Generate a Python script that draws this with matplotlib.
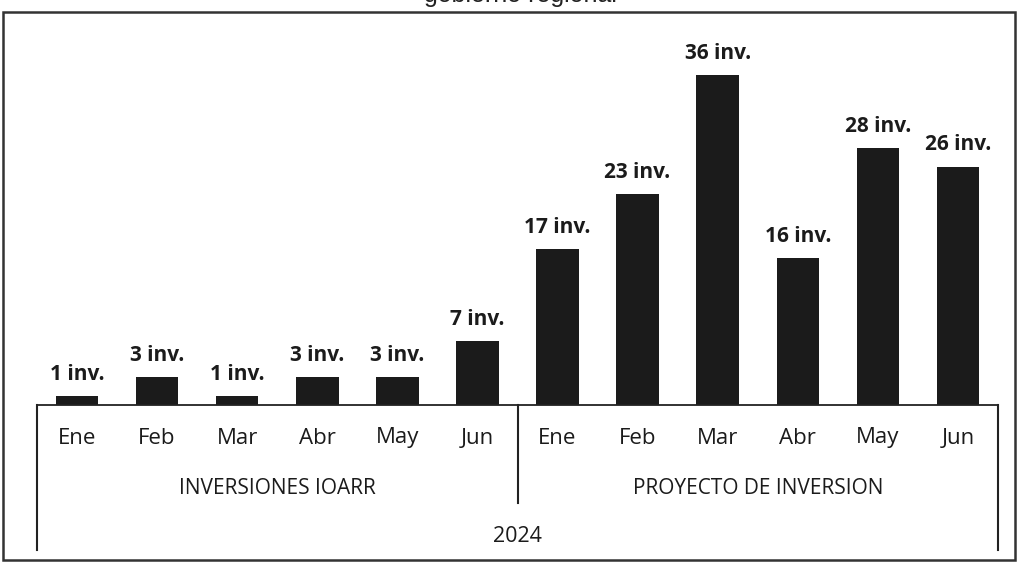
import matplotlib.pyplot as plt
from matplotlib.patches import Rectangle

# ---------------------------------------------------------------------------
# Data
# ---------------------------------------------------------------------------
months = ["Ene", "Feb", "Mar", "Abr", "May", "Jun"]
groups = ["INVERSIONES IOARR", "PROYECTO DE INVERSION"]
ioarr_values = [1, 3, 1, 3, 3, 7]
proyecto_values = [17, 23, 36, 16, 28, 26]
year_label = "2024"
title = "gobierno regional"

values = ioarr_values + proyecto_values
labels = months + months

W, H = 1018, 563
FONT = "Open Sans"
INK = "#1b1b1b"

fig = plt.figure(figsize=(W / 100, H / 100), dpi=100)
fig.patch.set_facecolor("white")

# axes: baseline at y=405px, top at y=17px, x from 37 to 998 px
left, right, top, base = 37, 998, 17, 405
ax = fig.add_axes([left / W, 1 - base / H, (right - left) / W, (base - top) / H])

x = list(range(len(values)))
bars = ax.bar(x, values, width=0.53, color=INK)
ax.set_xlim(-0.5, len(values) - 0.5)
ax.set_ylim(0, 42.3)

for rect, v in zip(bars, values):
    ax.annotate(f"{v} inv.", (rect.get_x() + rect.get_width() / 2, v),
                xytext=(0, 8), textcoords="offset points",
                ha="center", va="bottom", fontsize=15,
                fontweight="bold", family=FONT, color=INK)

for s in ["top", "left", "right"]:
    ax.spines[s].set_visible(False)
ax.spines["bottom"].set_color("#222222")
ax.spines["bottom"].set_linewidth(1.3)
ax.set_xticks([])
ax.set_yticks([])

# multi-level category axis
tr = ax.get_xaxis_transform()
ph = base - top
def yfrac(py):
    return (base - py) / ph

for xv, py in [(-0.5, 550), (5.5, 503), (11.5, 550)]:
    ax.plot([xv, xv], [0, yfrac(py)], transform=tr, color="#222222",
            lw=1.5, clip_on=False)

for xi, lab in zip(x, labels):
    ax.text(xi, yfrac(438), lab, transform=tr, ha="center", va="center",
            fontsize=16, family=FONT, color=INK)

ax.text(2.5, yfrac(489), groups[0], transform=tr, ha="center", va="center",
        fontsize=15, family=FONT, color=INK)
ax.text(8.5, yfrac(489), groups[1], transform=tr, ha="center", va="center",
        fontsize=15, family=FONT, color=INK)
ax.text(5.5, yfrac(536), year_label, transform=tr, ha="center", va="center",
        fontsize=15.5, family=FONT, color=INK)

# outer frame
fig.patches.append(Rectangle((2.5 / W, 1 - 560 / H), (1015 - 2.5) / W, (560 - 12) / H,
                             transform=fig.transFigure, fill=False,
                             edgecolor="#333333", lw=1.8))

# title, cut off at the top edge as in the scan
fig.text(520 / W, 1 - 2 / H, title, ha="center", va="baseline",
         fontsize=18, family="Liberation Sans", color="#222222")

fig.savefig("out.png", dpi=100, facecolor="white")
